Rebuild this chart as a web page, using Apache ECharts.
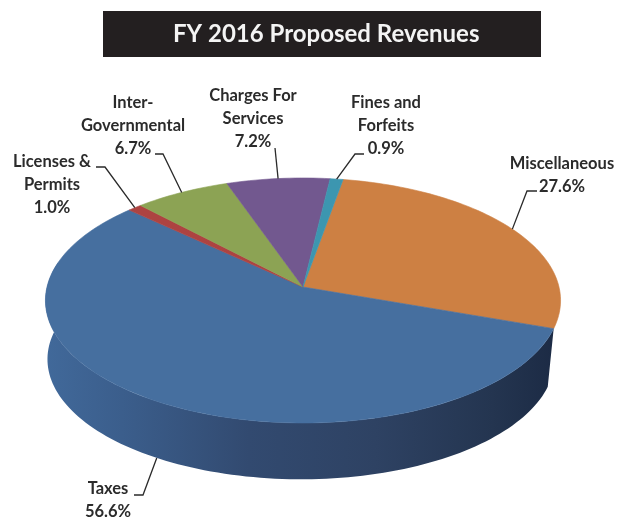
<!DOCTYPE html>
<html>
<head>
<meta charset="utf-8">
<style>html,body{margin:0;padding:0;background:#fff}#c{width:618px;height:521px}</style>
<script src="https://cdn.jsdelivr.net/npm/echarts@6/dist/echarts.min.js"></script>
</head>
<body>
<div id="c"></div>
<script>
var categories = ['Miscellaneous', 'Taxes', 'Licenses &\nPermits', 'Inter-\nGovernmental', 'Charges For\nServices', 'Fines and\nForfeits'];
var shares = [27.6, 56.6, 1.0, 6.7, 7.2, 0.9];
var chartTitle = 'FY 2016 Proposed Revenues';

var sliceColors = ['#cd8043', '#466f9f', '#ad4341', '#8ca354', '#72588f', '#3c96b0'];
var labelAnchors = [[562, 175], [108, 500.5], [52, 184.5], [133, 125.5], [253, 119], [386, 126]];
var leaderElbows = [[[537, 191], [527, 191]], [[134, 495], [143, 495]], [[96, 167], [105, 167]], [[155, 154], [163, 154]], [[275, 148]], [[364, 154], [355, 154]]];

var FONT = 'Lato';
var startDeg = 10, persp = 0.11;
var topDisk = { x: 303, y: 287, rx: 256, ry: 121 };
var baseDisk = { x: 301, y: 346, rx: 252, ry: 118.6 };
var total = shares.reduce(function (a, b) { return a + b; }, 0);

function rim(disk, deg) {
  var t = deg * Math.PI / 180, u = Math.sin(t), v = -Math.cos(t), w = 1 - persp * v;
  return [disk.x + disk.rx * u / w, disk.y + disk.ry * v / w];
}
function arc(disk, a, b) {
  var pts = [], n = Math.max(2, Math.ceil(Math.abs(b - a) / 1.5));
  for (var i = 0; i <= n; i++) pts.push(rim(disk, a + (b - a) * i / n));
  return pts;
}
function sliceStart(i) {
  var s = 0;
  for (var k = 0; k < i; k++) s += shares[k];
  return startDeg + s / total * 360;
}

var sideGradient = {
  type: 'linear', x: 0, y: 0, x2: 1, y2: 0,
  colorStops: [
    { offset: 0, color: '#41699a' }, { offset: 0.15, color: '#3b5e8c' },
    { offset: 0.4, color: '#324a70' }, { offset: 0.65, color: '#2e4263' },
    { offset: 0.88, color: '#243550' }, { offset: 1, color: '#1c2b45' }
  ]
};

function renderSlice(params, api) {
  var i = params.dataIndex, a = sliceStart(i), b = a + api.value(0) / total * 360;
  var children = [];
  var front = a < 180 && b > 180;
  if (front) {
    var s = Math.min(b, 282);
    children.push({
      type: 'polygon', z2: 1,
      shape: { points: arc(topDisk, a, s).concat(arc(baseDisk, s, a)) },
      style: { fill: sideGradient }
    });
  }
  children.push({
    type: 'polygon', z2: 2,
    shape: { points: [[topDisk.x, topDisk.y]].concat(arc(topDisk, a, b)) },
    style: { fill: sliceColors[i], stroke: sliceColors[i], lineWidth: 0.6 }
  });
  var tip = rim(front ? baseDisk : topDisk, (a + b) / 2);
  children.push({
    type: 'polyline', z2: 3,
    shape: { points: leaderElbows[i].concat([tip]) },
    style: { fill: null, stroke: '#2a2a2a', lineWidth: 1.3 }
  });
  children.push({
    type: 'text', z2: 4, x: labelAnchors[i][0], y: labelAnchors[i][1],
    style: {
      text: categories[i] + '\n' + api.value(0).toFixed(1) + '%',
      fontFamily: FONT, fontSize: 16.5, fontWeight: 700, fill: '#2b2b2b',
      align: 'center', verticalAlign: 'middle', lineHeight: 23
    }
  });
  return { type: 'group', children: children };
}

var chart = echarts.init(document.getElementById('c'), null, { renderer: 'canvas' });
chart.setOption({
  animation: false,
  backgroundColor: '#ffffff',
  title: {
    text: chartTitle, left: 168, top: 17,
    textStyle: { fontFamily: FONT, fontSize: 24, fontWeight: 700, color: '#f4f4f4' }
  },
  graphic: [{
    type: 'rect', z: -1, shape: { x: 103, y: 11, width: 438, height: 46 },
    style: { fill: '#231f20' }
  }],
  series: [{
    type: 'custom', coordinateSystem: 'none', silent: true, clip: false,
    data: shares, renderItem: renderSlice
  }]
});
</script>
</body>
</html>
